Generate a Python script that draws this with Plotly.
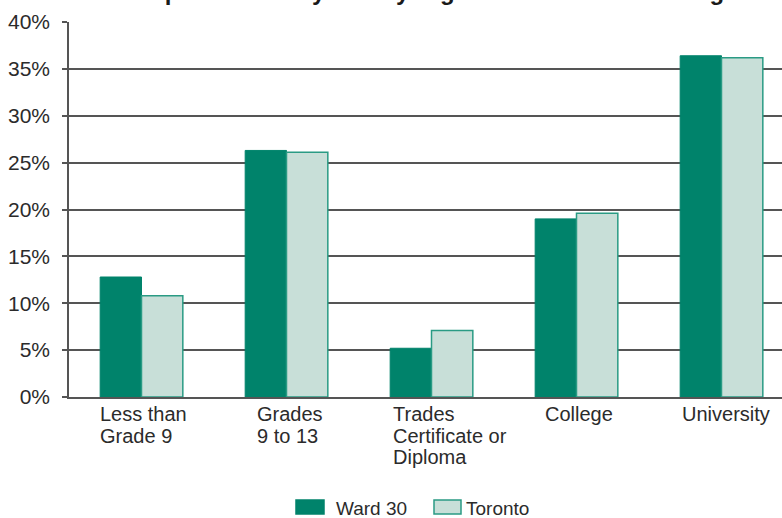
import plotly.graph_objects as go

categories = ["Less than\nGrade 9", "Grades\n9 to 13", "Trades\nCertificate or\nDiploma", "College", "University"]
ward30 = [12.8, 26.3, 5.2, 19.0, 36.4]
toronto = [10.8, 26.1, 7.1, 19.6, 36.2]
series_names = ["Ward 30", "Toronto"]
title_text = "Population 25+ years by Highest Level of Schooling"
# left offset of each category label, in category units (styling)
label_offsets = [-0.30, -0.22, -0.28, -0.23, -0.285]

WARD_COLOR = "#00836B"
TOR_FILL = "#C8DFD8"
TOR_LINE = "#2A9B84"
GRID = "#555555"
TEXT = "#2b2b2b"
FONT = "Liberation Sans, Arial, sans-serif"

W, H = 782, 518
L, R, T, B = 69, 0, 22, 121
PW, PH = W - L - R, H - T - B
CAT_PX = 145.0

def px_x(px):
    return (px - L) / PW

def px_y(py):
    return (H - B - py) / PH

x_idx = list(range(len(categories)))

fig = go.Figure()
fig.add_trace(go.Bar(x=x_idx, y=ward30, name=series_names[0],
                     marker=dict(color=WARD_COLOR, line=dict(color=WARD_COLOR, width=1)),
                     showlegend=False))
fig.add_trace(go.Bar(x=x_idx, y=toronto, name=series_names[1],
                     marker=dict(color=TOR_FILL, line=dict(color=TOR_LINE, width=1.5)),
                     showlegend=False))

annotations = []
# category labels, left-aligned blocks with tight line spacing
line_h = 21.5
for i, (lab, off) in enumerate(zip(categories, label_offsets)):
    for j, line in enumerate(lab.split("\n")):
        annotations.append(dict(
            x=i + off, xref="x", xanchor="left",
            y=px_y(414 + j * line_h), yref="paper", yanchor="middle",
            text=line, showarrow=False, align="left",
            font=dict(family=FONT, size=20, color=TEXT)))

# title (mostly cropped at the top)
annotations.append(dict(
    x=px_x(132), xref="paper", xanchor="left",
    y=px_y(7), yref="paper", yanchor="bottom",
    text="<b>" + title_text + "</b>", showarrow=False,
    font=dict(family=FONT, size=24, color="#1a1a1a")))

# custom legend
shapes = []
leg = [(296, 324, WARD_COLOR, WARD_COLOR, 334), (434, 461, TOR_FILL, TOR_LINE, 464)]
for (x0, x1, fill, line, tx), name in zip(leg, series_names):
    shapes.append(dict(type="rect", xref="paper", yref="paper",
                       x0=px_x(x0), x1=px_x(x1), y0=px_y(514), y1=px_y(500),
                       fillcolor=fill, line=dict(color=line, width=1.5)))
    annotations.append(dict(x=px_x(tx), xref="paper", xanchor="left",
                            y=px_y(508), yref="paper", yanchor="middle",
                            text=name, showarrow=False,
                            font=dict(family=FONT, size=19, color=TEXT)))

fig.update_layout(
    width=W, height=H,
    margin=dict(l=L, r=R, t=T, b=B, pad=0),
    paper_bgcolor="white", plot_bgcolor="white",
    barmode="group", bargap=0.43, bargroupgap=0,
    showlegend=False,
    annotations=annotations, shapes=shapes,
    font=dict(family=FONT, color=TEXT),
)
fig.update_xaxes(range=[-0.5, -0.5 + PW / CAT_PX], showticklabels=False,
                 showgrid=False, zeroline=False, showline=True,
                 linecolor=GRID, linewidth=1.5, ticks="", fixedrange=True)
fig.update_yaxes(range=[0, 40], dtick=5, ticksuffix="%", showgrid=True,
                 gridcolor=GRID, gridwidth=1.5, zeroline=False,
                 showline=True, linecolor=GRID, linewidth=1.5,
                 ticks="outside", ticklen=5, tickcolor=GRID, tickwidth=1.5,
                 tickfont=dict(family=FONT, size=21, color=TEXT),
                 ticklabelstandoff=8, fixedrange=True)

fig.write_html("out.html", config={"displayModeBar": False},
               post_script="document.body.style.margin='0px';document.body.style.overflow='hidden';")
